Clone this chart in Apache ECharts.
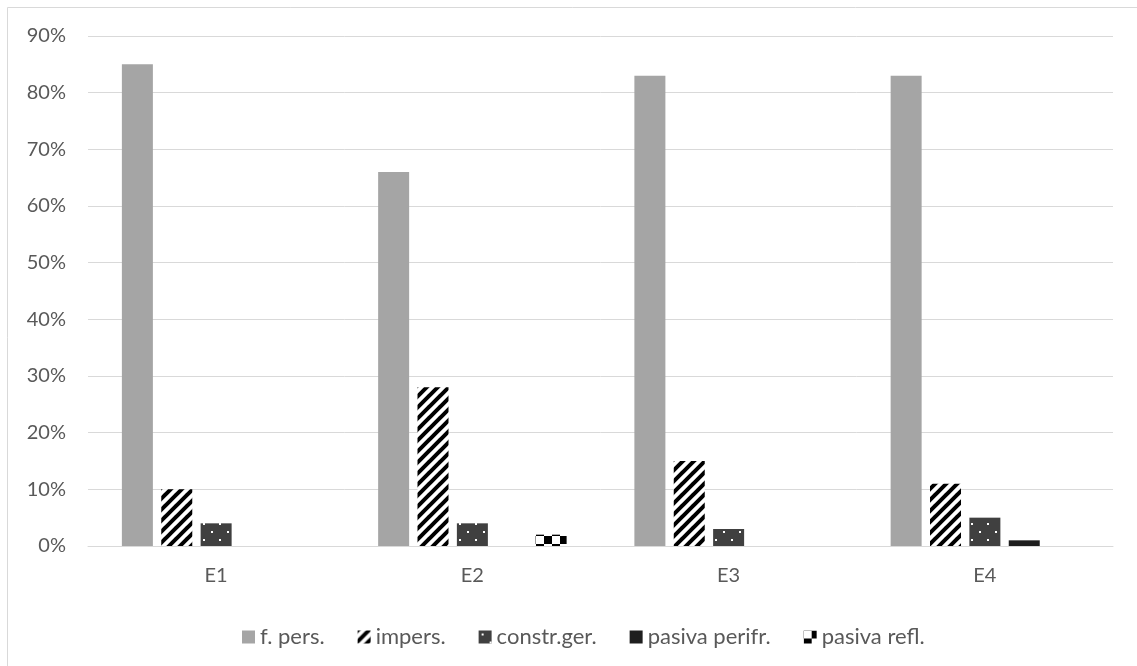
<!DOCTYPE html>
<html>
<head>
<meta charset="utf-8">
<script src="https://cdn.jsdelivr.net/npm/echarts@6/dist/echarts.min.js"></script>
<style>
  html, body { margin: 0; padding: 0; background: #fff; }
  #chart { width: 1137px; height: 666px; }
</style>
</head>
<body>
<div id="chart"></div>
<script>
// Categories and values (percent)
const categories = ['E1', 'E2', 'E3', 'E4'];
const seriesNames = ['f. pers.', 'impers.', 'constr.ger.', 'pasiva perifr.', 'pasiva refl.'];
const fPers = [85, 66, 83, 83];
const impers = [10, 28, 15, 11];
const constrGer = [4, 4, 3, 5];
const pasivaPerifr = [0, 0, 0, 1];
const pasivaRefl = [0, 2, 0, 0];
const yTicks = { min: 0, max: 90, interval: 10 };

// Fill patterns drawn on small canvases
function makeTile(size, draw) {
  const c = document.createElement('canvas');
  c.width = size; c.height = size;
  draw(c.getContext('2d'), size);
  return { image: c, repeat: 'repeat' };
}

const stripes = makeTile(11, (ctx, s) => {
  ctx.fillStyle = '#ffffff';
  ctx.fillRect(0, 0, s, s);
  ctx.strokeStyle = '#000000';
  ctx.lineWidth = 4;
  ctx.lineCap = 'square';
  for (const off of [-s, 0, s]) {
    ctx.beginPath();
    ctx.moveTo(off, s);
    ctx.lineTo(off + s, 0);
    ctx.stroke();
  }
});

const dots = makeTile(16, (ctx, s) => {
  ctx.fillStyle = '#404040';
  ctx.fillRect(0, 0, s, s);
  ctx.fillStyle = '#ffffff';
  ctx.fillRect(3, 3, 2, 2);
  ctx.fillRect(11, 11, 2, 2);
});

const checker = makeTile(16, (ctx, s) => {
  ctx.fillStyle = '#ffffff';
  ctx.fillRect(0, 0, s, s);
  ctx.fillStyle = '#000000';
  ctx.fillRect(8, 0, 8, 8);
  ctx.fillRect(0, 8, 8, 8);
});

const fills = ['#a5a5a5', stripes, dots, '#1e1e1e', checker];
const values = [fPers, impers, constrGer, pasivaPerifr, pasivaRefl];

const chart = echarts.init(document.getElementById('chart'), null, { renderer: 'canvas' });

const textFont = 'Lato';
const textColor = '#595959';
const lineColor = '#d9d9d9';

chart.setOption({
  animation: false,
  backgroundColor: '#ffffff',
  graphic: [{
    type: 'rect',
    shape: { x: 7.5, y: 7.5, width: 1140, height: 680 },
    style: { fill: 'none', stroke: lineColor, lineWidth: 1 },
    silent: true
  }],
  grid: { left: 88, right: 24, top: 36, bottom: 120, containLabel: false },
  legend: {
    left: 237,
    top: 621,
    itemWidth: 13,
    itemHeight: 13,
    itemGap: 33,
    icon: 'rect',
    textStyle: { fontFamily: textFont, fontSize: 22, color: textColor },
    data: seriesNames
  },
  xAxis: {
    type: 'category',
    data: categories,
    axisLine: { show: true, lineStyle: { color: lineColor, width: 1 } },
    axisTick: { show: false },
    axisLabel: { margin: 20, fontFamily: textFont, fontSize: 20, color: textColor }
  },
  yAxis: {
    type: 'value',
    min: yTicks.min,
    max: yTicks.max,
    interval: yTicks.interval,
    axisLine: { show: false },
    axisTick: { show: false },
    splitLine: { lineStyle: { color: lineColor, width: 1 } },
    axisLabel: { margin: 22, fontFamily: textFont, fontSize: 20, color: textColor, formatter: '{value}%' }
  },
  series: seriesNames.map((name, i) => ({
    name,
    type: 'bar',
    data: values[i],
    barWidth: 31,
    barGap: '27%',
    itemStyle: { color: fills[i] }
  }))
});
</script>
</body>
</html>
